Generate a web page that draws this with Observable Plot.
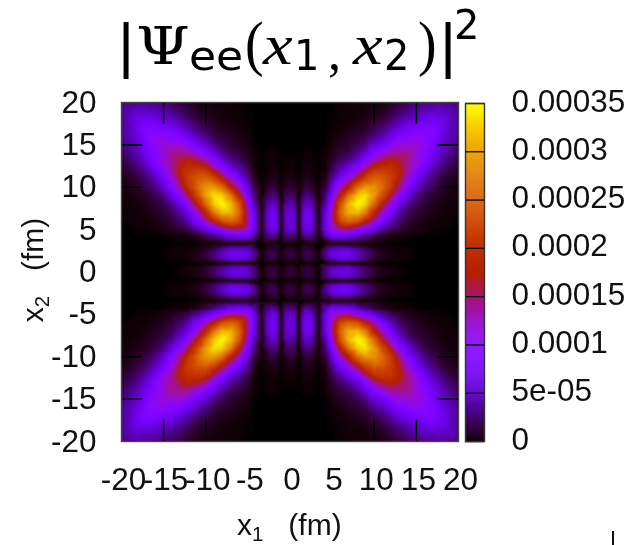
<!DOCTYPE html>
<html>
<head>
<meta charset="utf-8">
<script src="https://cdn.jsdelivr.net/npm/d3@7"></script>
<script src="https://cdn.jsdelivr.net/npm/@observablehq/plot@0.6"></script>
<style>
html,body{margin:0;padding:0;background:#fff;overflow:hidden}
#page{position:relative;width:633px;height:545px;font-family:"Liberation Sans",Arial,sans-serif;color:#111;filter:blur(.55px)}
#page svg{position:absolute;left:0;top:0;background:transparent;overflow:visible}
.t{position:absolute;white-space:nowrap;line-height:1}
sub{font-size:.68em;vertical-align:baseline;position:relative;top:.28em}
#title span{position:absolute;white-space:pre;line-height:1;transform-origin:left center}
</style>
</head>
<body>
<div id="page"></div>
<script>
// Grid coordinates (fm) of the first quadrant; the plot is mirror-symmetric in both axes
const gridCoords = [0,0.5,1.05,1.6,2.1,2.6,3.4,4.3,5,6,7,8,9,10,11,12,13,14,15,16,17,18,19,20];
// |Psi|^2, in units of 1e-6; rows by x2, columns by x1
const row00 = [12,10,1,12,15,11,1,30,55,62,60,42,25,11,5,2,1,0,0,0,0,0,0,0];
const row01 = [10,9,1,10,13,10,1,26,47,53,51,36,21,9,4,2,1,0,0,0,0,0,0,0];
const row02 = [1,1,0,1,1,1,0,2,2,3,3,2,1,1,0,0,0,0,0,0,0,0,0,0];
const row03 = [12,10,1,10,16,12,1,30,52,60,58,42,24,11,5,2,1,1,0,0,0,0,0,0];
const row04 = [15,13,1,16,20,15,1,38,65,75,72,52,30,14,6,3,1,1,0,0,0,0,0,0];
const row05 = [11,10,1,12,15,11,1,28,49,56,54,39,22,10,4,2,1,1,0,0,0,0,0,0];
const row06 = [1,1,0,1,1,1,0,3,3,2,2,2,1,1,0,0,0,0,0,0,0,0,0,0];
const row07 = [30,26,2,30,38,28,3,45,72,75,68,46,30,15,7,3,2,1,0,0,0,0,0,0];
const row08 = [55,47,2,52,65,49,3,72,120,140,140,112,85,56,36,19,11,6,4,2,1,1,0,0];
const row09 = [62,53,3,60,75,56,2,75,140,230,258,242,180,130,80,46,24,13,7,4,2,1,1,0];
const row10 = [60,51,3,58,72,54,2,68,140,258,310,315,273,185,122,70,38,19,11,7,4,2,1,1];
const row11 = [42,36,2,42,52,39,2,46,112,242,315,350,324,261,175,110,60,34,19,11,6,3,2,1];
const row12 = [25,21,1,24,30,22,1,30,85,180,273,324,335,296,232,160,100,58,31,17,9,5,3,2];
const row13 = [11,9,1,11,14,10,1,15,56,130,185,261,296,290,257,208,145,92,56,31,18,10,5,3];
const row14 = [5,4,0,5,6,4,0,7,36,80,122,175,232,257,245,216,168,115,70,44,25,13,7,4];
const row15 = [2,2,0,2,3,2,0,3,19,46,70,110,160,208,216,205,181,140,100,65,41,24,14,8];
const row16 = [1,1,0,1,1,1,0,2,11,24,38,60,100,145,168,181,165,142,120,88,56,36,22,13];
const row17 = [0,0,0,1,1,1,0,1,6,13,19,34,58,92,115,140,142,142,118,95,72,47,31,20];
const row18 = [0,0,0,0,0,0,0,0,4,7,11,19,31,56,70,100,120,118,118,105,78,56,41,26];
const row19 = [0,0,0,0,0,0,0,0,2,4,7,11,17,31,44,65,88,95,105,100,90,62,46,33];
const row20 = [0,0,0,0,0,0,0,0,1,2,4,6,9,18,25,41,56,72,78,90,85,72,46,35];
const row21 = [0,0,0,0,0,0,0,0,1,1,2,3,5,10,13,24,36,47,56,62,72,65,52,33];
const row22 = [0,0,0,0,0,0,0,0,0,1,1,2,3,5,7,14,22,31,41,46,46,52,45,35];
const row23 = [0,0,0,0,0,0,0,0,0,0,1,1,2,3,4,8,13,20,26,33,35,33,35,28];
const rows = [row00,row01,row02,row03,row04,row05,row06,row07,row08,row09,row10,row11,row12,row13,row14,row15,row16,row17,row18,row19,row20,row21,row22,row23];

const axisTicks = [-20,-15,-10,-5,0,5,10,15,20];
const barTicks = [0,0.00005,0.0001,0.00015,0.0002,0.00025,0.0003,0.00035];
const barLabels = ["0","5e-05","0.0001","0.00015","0.0002","0.00025","0.0003","0.00035"];
const colorMax = 0.00035;

// gnuplot's default pm3d palette (rgbformulae 7,5,15)
const palette = t => {
  const c = Math.max(0, Math.min(1, t));
  return `rgb(${Math.round(255*Math.sqrt(c))},${Math.round(255*c*c*c)},${Math.round(255*Math.max(0,Math.sin(2*Math.PI*c)))})`;
};
const colorScale = {type:"linear", domain:[0,colorMax], interpolate:()=>palette};

const points = [];
rows.forEach((row,j)=>row.forEach((v,i)=>{
  const xs = gridCoords[i]===0 ? [0] : [gridCoords[i],-gridCoords[i]];
  const ys = gridCoords[j]===0 ? [0] : [gridCoords[j],-gridCoords[j]];
  for (const x of xs) for (const y of ys) points.push({x,y,v:v*1e-6});
}));

const fontStyle = {fontFamily:'"Liberation Sans",Arial,sans-serif', fontSize:"31.5px", color:"#111"};

const main = Plot.plot({
  width:633, height:545,
  marginLeft:121, marginRight:175, marginTop:102, marginBottom:104,
  style:fontStyle,
  x:{domain:[-20,20]}, y:{domain:[-20,20]},
  color:colorScale,
  marks:[
    Plot.raster(points,{x:"x",y:"y",fill:"v",interpolate:"barycentric",pixelSize:1}),
    Plot.ruleX(axisTicks.slice(1,-1),{y1:-20,y2:-17.45,stroke:"#000",strokeWidth:1.6}),
    Plot.ruleX(axisTicks.slice(1,-1),{y1:20,y2:17.45,stroke:"#000",strokeWidth:1.6}),
    Plot.ruleY(axisTicks.slice(1,-1),{x1:-20,x2:-17.5,stroke:"#000",strokeWidth:1.6}),
    Plot.ruleY(axisTicks.slice(1,-1),{x1:20,x2:17.5,stroke:"#000",strokeWidth:1.6}),
    Plot.frame({stroke:"#444",strokeWidth:1.4}),
    Plot.axisX(axisTicks,{anchor:"bottom",tickSize:0,tickPadding:26,dx:2,tickFormat:String,label:null,fontSize:31.5}),
    Plot.axisY(axisTicks,{anchor:"left",tickSize:0,tickPadding:25,tickFormat:String,label:null,fontSize:31.5})
  ]
});

const barValues = d3.range(0,341).map(i=>i/340*colorMax);
const bar = Plot.plot({
  width:633, height:545,
  marginLeft:465, marginRight:149, marginTop:103, marginBottom:104,
  style:fontStyle,
  x:{domain:[0,1],axis:null},
  y:{domain:[0,colorMax],axis:null},
  color:colorScale,
  marks:[
    Plot.ruleY(barValues,{y:d=>d,x1:0,x2:1,stroke:d=>d,strokeWidth:1.4}),
    Plot.ruleY(barTicks,{x1:0,x2:1,stroke:"#000",strokeWidth:1.3}),
    Plot.frame({stroke:"#333",strokeWidth:1.4}),
    Plot.text(barTicks,{y:d=>d,frameAnchor:"right",text:(d,i)=>barLabels[i],textAnchor:"start",dx:27,dy:-2,fontSize:31.5,fill:"#111"})
  ]
});

const page = document.getElementById("page");
page.append(main, bar);

function label(html, css){
  const d = document.createElement("div");
  d.className = "t";
  d.innerHTML = html;
  d.style.cssText = css;
  page.append(d);
}
label('x<sub>1</sub>&nbsp;&nbsp;&nbsp;(fm)', 'left:237px;top:510px;font-size:30px;');
label('x<sub>2</sub>&nbsp;&nbsp;&nbsp;(fm)', 'left:33px;top:270px;font-size:30px;transform:translate(-50%,-50%) rotate(-90deg);');

// Title pieces: text, left, top, size, font, style, horizontal stretch
const titleParts = [
  ["|",  118, 14, 62, '"Liberation Sans"', "normal", 1],
  ["Ψ",  136, 20, 52, '"DejaVu Serif"', "normal", 1.18],
  ["ee", 189, 36, 40, '"DejaVu Sans"', "normal", 1.1],
  ["(",  245, 12, 62, '"Liberation Serif"', "normal", 0.9],
  ["x",  263, 16, 58, '"Liberation Serif"', "italic", 1.15],
  ["1",  294, 35, 42, '"DejaVu Sans"', "normal", 0.95],
  [",",  328, 26, 52, '"Liberation Serif"', "normal", 1],
  ["x",  353, 16, 58, '"Liberation Serif"', "italic", 1.15],
  ["2",  384, 35, 42, '"DejaVu Sans"', "normal", 0.95],
  [")",  418, 12, 62, '"Liberation Serif"', "normal", 0.9],
  ["|",  440, 14, 62, '"Liberation Sans"', "normal", 1],
  ["2",  454, 5, 40, '"DejaVu Sans"', "normal", 1]
];
const title = document.createElement("div");
title.id = "title";
titleParts.forEach(([s,x,y,size,font,st,k])=>{
  const e = document.createElement("span");
  e.textContent = s;
  e.style.cssText = `left:${x}px;top:${y}px;font-size:${size}px;font-family:${font};font-style:${st};color:#000;transform:scaleX(${k})`;
  title.append(e);
});
page.append(title);

// Stray mark at the bottom edge of the reference image
const stray = document.createElement("div");
stray.style.cssText = "position:absolute;left:612px;top:531px;width:2px;height:14px;background:#111";
page.append(stray);
</script>
</body>
</html>
